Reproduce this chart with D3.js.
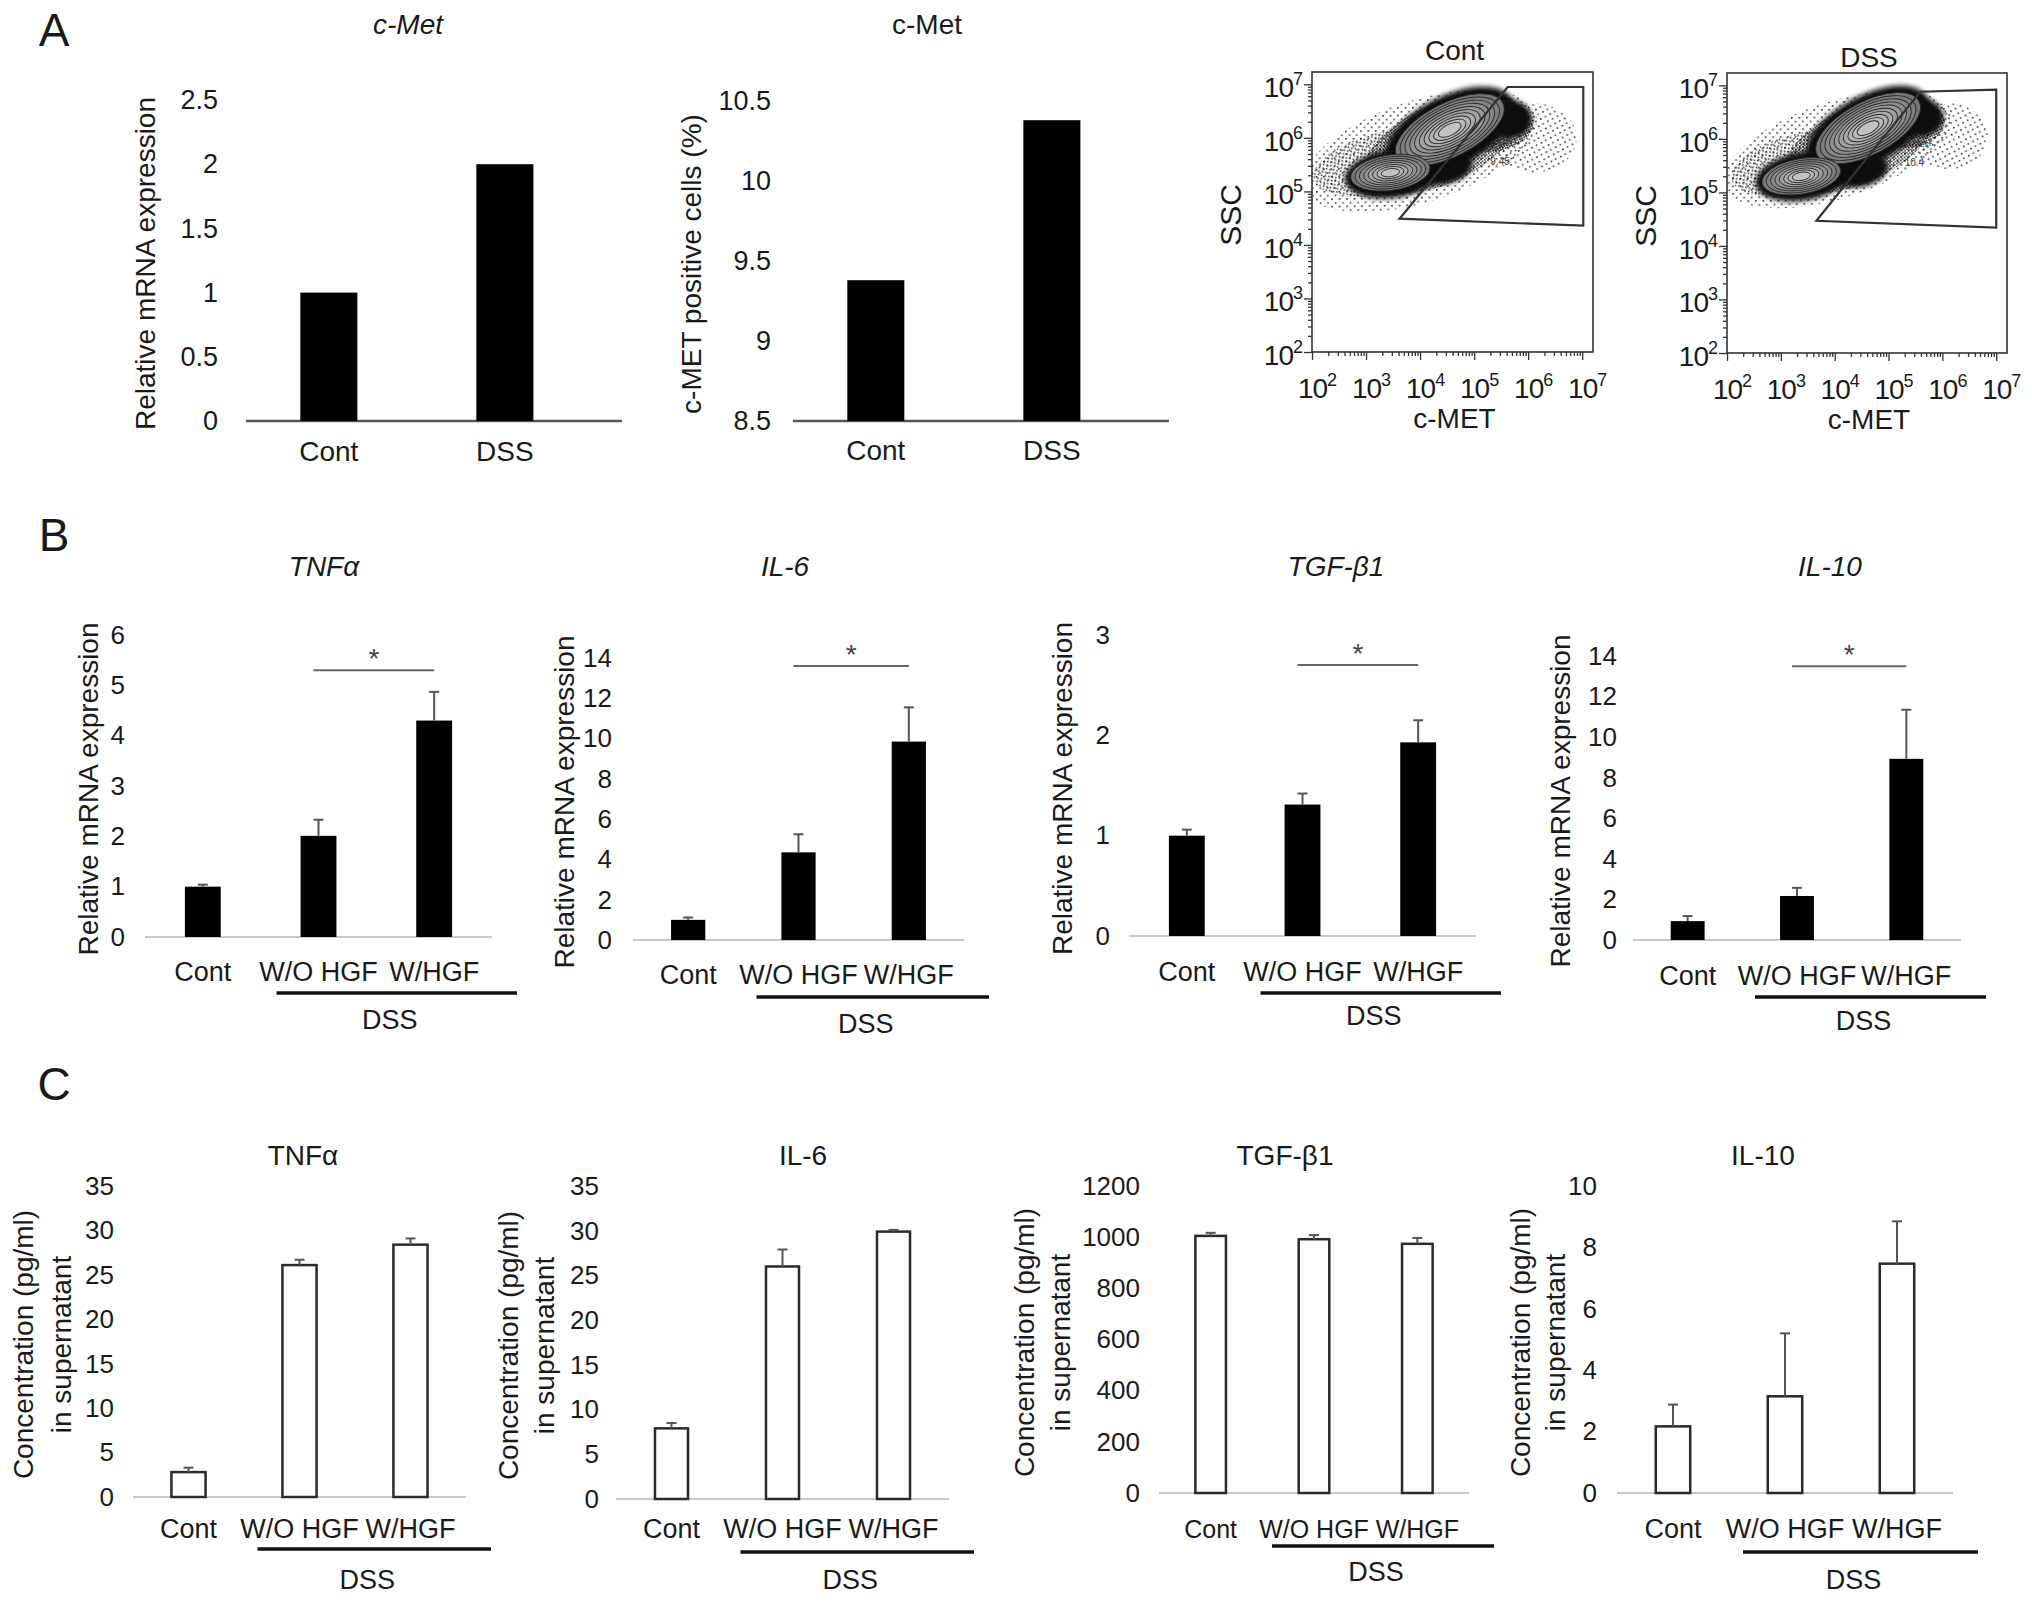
<!DOCTYPE html>
<html>
<head>
<meta charset="utf-8">
<script src="https://cdn.jsdelivr.net/npm/d3@7"></script>
<style>
  body { margin: 0; background: #fff; }
</style>
</head>
<body>
<script>
// ---- data ----
var catsA = ["Cont", "DSS"];
var cMetMrna = [1.0, 2.0];
var cMetPositive = [9.38, 10.38];

var catsB = ["Cont", "W/O HGF", "W/HGF"];

// B: relative mRNA expression (mean, upper error)
var tnfMrna = [1.0, 2.01, 4.30],   tnfMrnaErr = [0.04, 0.32, 0.57];
var il6Mrna = [1.0, 4.35, 9.85],   il6MrnaErr = [0.12, 0.9, 1.7];
var tgfMrna = [1.0, 1.31, 1.93],   tgfMrnaErr = [0.06, 0.11, 0.22];
var il10Mrna = [0.93, 2.17, 8.93], il10MrnaErr = [0.25, 0.4, 2.42];

// C: concentration in supernatant (pg/ml)
var tnfConc = [2.8, 26.1, 28.4],   tnfConcErr = [0.5, 0.6, 0.7];
var il6Conc = [7.9, 26.0, 29.9],   il6ConcErr = [0.6, 1.9, 0.2];
var tgfConc = [1005, 992, 974],    tgfConcErr = [12, 16, 23];
var il10Conc = [2.17, 3.15, 7.47], il10ConcErr = [0.71, 2.05, 1.38];

// significance bar heights in panel B
var sigB = [5.3, 13.6, 2.7, 13.5];

// flow cytometry (log10 units): gate corners, cloud regions
var gateCont = [[3.62, 4.49], [5.62, 6.95], [7.02, 6.95], [7.02, 4.36]];
var gateDss  = [[3.66, 4.47], [5.59, 6.88], [7.00, 6.92], [7.00, 4.34]];
var gatePctCont = "9.45", gatePctDss = "10.4";

var haloCont = [
  {x: 4.0, y: 5.75, rx: 2.25, ry: 0.95, a: -18, d: "sparse"},
  {x: 6.1, y: 6.0, rx: 0.8, ry: 0.65, a: 0, d: "sparse"},
  {x: 3.5, y: 5.55, rx: 1.5, ry: 0.6, a: -12, d: "medium"},
  {x: 4.4, y: 5.9, rx: 1.55, ry: 0.75, a: -25, d: "dense"},
  {x: 5.4, y: 6.2, rx: 0.7, ry: 0.45, a: -10, d: "dense"}
];
var coreCont = [
  {x: 4.55, y: 6.12, rx: 1.3, ry: 0.66, a: -27},
  {x: 3.5, y: 5.33, rx: 0.9, ry: 0.45, a: -8},
  {x: 4.42, y: 5.45, rx: 0.55, ry: 0.32, a: -10},
  {x: 5.65, y: 6.35, rx: 0.42, ry: 0.36, a: 0}
];
var contourCont = [
  {x: 4.55, y: 6.15, rx: 1.1, ry: 0.5, a: -27, n: 10},
  {x: 3.45, y: 5.35, rx: 0.74, ry: 0.33, a: -8, n: 8}
];

var haloDss = [
  {x: 4.05, y: 5.8, rx: 2.2, ry: 0.9, a: -18, d: "sparse"},
  {x: 6.1, y: 6.05, rx: 0.75, ry: 0.62, a: 0, d: "sparse"},
  {x: 3.5, y: 5.55, rx: 1.45, ry: 0.58, a: -12, d: "medium"},
  {x: 4.45, y: 5.9, rx: 1.5, ry: 0.72, a: -25, d: "dense"},
  {x: 5.4, y: 6.25, rx: 0.65, ry: 0.42, a: -10, d: "dense"}
];
var coreDss = [
  {x: 4.62, y: 6.18, rx: 1.25, ry: 0.63, a: -28},
  {x: 3.42, y: 5.3, rx: 0.9, ry: 0.45, a: -10},
  {x: 4.45, y: 5.42, rx: 0.55, ry: 0.32, a: -10},
  {x: 5.62, y: 6.4, rx: 0.4, ry: 0.35, a: 0}
];
var contourDss = [
  {x: 4.62, y: 6.2, rx: 1.07, ry: 0.49, a: -28, n: 10},
  {x: 3.38, y: 5.3, rx: 0.74, ry: 0.33, a: -10, n: 8}
];

// ---- drawing ----
var FAM = '"Liberation Sans", Arial, Helvetica, sans-serif';
var INK = "#1a1a1a";
var svg = d3.select("body").append("svg")
    .attr("width", 2032).attr("height", 1603)
    .attr("font-family", FAM);
svg.append("rect").attr("width", 2032).attr("height", 1603).attr("fill", "#fff");

var defs = svg.append("defs");
function speck(id, size, r, rot) {
  var p = defs.append("pattern").attr("id", id)
      .attr("width", size).attr("height", size)
      .attr("patternUnits", "userSpaceOnUse")
      .attr("patternTransform", "rotate(" + rot + ")");
  p.append("circle").attr("cx", 0.6).attr("cy", 0.6).attr("r", r).attr("fill", "#000");
  p.append("circle").attr("cx", size / 2 + 0.6).attr("cy", size / 2 + 1).attr("r", r * 0.9).attr("fill", "#222");
}
speck("speck-sparse", 7.5, 1.1, 17);
speck("speck-medium", 5, 1.1, -23);
speck("speck-dense", 3.4, 1.05, 31);
defs.append("filter").attr("id", "soft").attr("x", "-30%").attr("y", "-30%").attr("width", "160%").attr("height", "160%")
  .append("feGaussianBlur").attr("stdDeviation", 2.5);

function centerText(t, x, y, size, opts) {
  opts = opts || {};
  return svg.append("text")
      .attr("x", x).attr("y", y).attr("dy", "0.35em")
      .attr("text-anchor", "middle")
      .attr("font-size", size)
      .attr("font-style", opts.italic ? "italic" : null)
      .attr("fill", opts.fill || INK)
      .text(t);
}

function vText(t, x, y, size) {
  svg.append("text")
      .attr("transform", "translate(" + x + "," + y + ") rotate(-90)")
      .attr("dy", "0.35em")
      .attr("text-anchor", "middle")
      .attr("font-size", size)
      .attr("fill", INK)
      .text(t);
}

function barChart(o) {
  var g = svg.append("g");
  var x = d3.scaleBand().domain(o.cats).range([o.x0, o.x1])
      .paddingInner(o.pi).paddingOuter(o.po).align(o.align == null ? 0.5 : o.align);
  var y = d3.scaleLinear().domain(o.dom).range([o.yZero, o.yTop]);
  var bw = x.bandwidth();
  var cx = function(c) { return x(c) + bw / 2; };
  var fs = o.fs || 27;

  g.append("g")
      .attr("transform", "translate(" + o.tickRight + ",0)")
      .call(d3.axisLeft(y).tickValues(o.ticks).tickSize(0).tickPadding(0).tickFormat(d3.format("~g")))
      .call(function(a) { a.select(".domain").remove(); })
      .attr("font-family", null)
      .attr("font-size", o.tickFs || 26)
      .selectAll("text").attr("fill", INK);

  g.append("line")
      .attr("x1", o.x0).attr("x2", o.x1)
      .attr("y1", y(o.dom[0])).attr("y2", y(o.dom[0]))
      .attr("stroke", o.baseColor).attr("stroke-width", o.baseWidth);

  g.selectAll("rect.bar").data(o.values).join("rect")
      .attr("class", "bar")
      .attr("x", function(d, i) { return x(o.cats[i]) + (o.open ? 1.25 : 0); })
      .attr("y", function(d) { return y(d); })
      .attr("width", bw - (o.open ? 2.5 : 0))
      .attr("height", function(d) { return y(o.dom[0]) - y(d); })
      .attr("fill", o.open ? "#fff" : "#000")
      .attr("stroke", o.open ? "#2a2a2a" : "none")
      .attr("stroke-width", 2.5);

  if (o.errs) {
    o.values.forEach(function(v, i) {
      var c = cx(o.cats[i]);
      g.append("line").attr("x1", c).attr("x2", c)
          .attr("y1", y(v)).attr("y2", y(v + o.errs[i]))
          .attr("stroke", "#555").attr("stroke-width", 2);
      g.append("line").attr("x1", c - 5).attr("x2", c + 5)
          .attr("y1", y(v + o.errs[i])).attr("y2", y(v + o.errs[i]))
          .attr("stroke", "#555").attr("stroke-width", 2);
    });
  }

  o.cats.forEach(function(c) {
    centerText(c, cx(c), o.catY, fs);
  });

  if (o.dssY) {
    var lx0 = cx(o.cats[1]) - 42, lx1 = o.x1 + 25;
    g.append("line").attr("x1", lx0).attr("x2", lx1)
        .attr("y1", o.dssY).attr("y2", o.dssY)
        .attr("stroke", "#111").attr("stroke-width", 3.5);
    centerText("DSS", (lx0 + lx1) / 2 - 7, o.dssLabelY, 27);
  }

  if (o.sig != null) {
    var s0 = cx(o.cats[1]) - 5, s1 = cx(o.cats[2]);
    g.append("line").attr("x1", s0).attr("x2", s1)
        .attr("y1", y(o.sig)).attr("y2", y(o.sig))
        .attr("stroke", "#666").attr("stroke-width", 2);
    centerText("*", (s0 + s1) / 2, y(o.sig) - 12, 28, {fill: "#444"});
  }

  centerText(o.title, o.titleX, o.titleY, 28, {italic: o.italic});
  o.ylab.forEach(function(t, i) {
    vText(t, o.ylabX[i], (o.yZero + o.yTop) / 2 + 3, o.ylabFs || 28);
  });
}

function flowPlot(o) {
  var L = o.frame[0], R = o.frame[1], T = o.frame[2], B = o.frame[3];
  var xF = d3.scaleLog().domain([1e2, Math.pow(10, 7.2)]).range([L, R]);
  var yF = d3.scaleLog().domain([1e2, Math.pow(10, 7.23)]).range([B, T]);
  var g = svg.append("g");
  var clipId = "clip-" + o.title;
  defs.append("clipPath").attr("id", clipId)
    .append("rect").attr("x", L).attr("y", T).attr("width", R - L).attr("height", B - T);
  var plot = g.append("g").attr("clip-path", "url(#" + clipId + ")");

  function ell(c, k) {
    var cx = xF(Math.pow(10, c.x)), cy = yF(Math.pow(10, c.y));
    return {
      cx: cx, cy: cy,
      rx: (xF(Math.pow(10, c.x + c.rx)) - cx) * k,
      ry: (cy - yF(Math.pow(10, c.y + c.ry))) * k,
      t: "rotate(" + c.a + "," + cx + "," + cy + ")"
    };
  }
  function draw(sel, e) {
    return sel.append("ellipse").attr("cx", e.cx).attr("cy", e.cy)
        .attr("rx", e.rx).attr("ry", e.ry).attr("transform", e.t);
  }

  o.halo.forEach(function(c) {
    draw(plot, ell(c, 1)).attr("fill", "url(#speck-" + c.d + ")").attr("opacity", 0.8);
  });
  o.core.forEach(function(c) {
    draw(plot, ell(c, 1)).attr("fill", "#0d0d0d").attr("filter", "url(#soft)");
  });
  o.contour.forEach(function(c) {
    d3.range(c.n).forEach(function(i) {
      var k = 1 - i * 0.88 / c.n;
      draw(plot, ell(c, k))
          .attr("fill", d3.interpolateGreys(0.62 - 0.3 * i / c.n))
          .attr("stroke", "#2a2a2a").attr("stroke-width", 0.9);
    });
  });

  plot.append("path")
      .attr("d", d3.line()(o.gate.map(function(p) { return [xF(Math.pow(10, p[0])), yF(Math.pow(10, p[1]))]; })) + "Z")
      .attr("fill", "none").attr("stroke", "#333").attr("stroke-width", 2.2);

  plot.append("text").attr("x", xF(Math.pow(10, 5.3))).attr("y", yF(Math.pow(10, 5.84)))
      .attr("font-size", 9).attr("fill", "#333").text("c-Met+");
  plot.append("text").attr("x", xF(Math.pow(10, 5.3))).attr("y", yF(Math.pow(10, 5.5)))
      .attr("font-size", 10).attr("fill", "#444").text(o.pct);

  g.append("rect").attr("x", L).attr("y", T).attr("width", R - L).attr("height", B - T)
      .attr("fill", "none").attr("stroke", "#333").attr("stroke-width", 1.6);

  function isMajor(d) { var l = Math.log10(d); return Math.abs(l - Math.round(l)) < 1e-6; }

  g.append("g").attr("transform", "translate(" + L + ",0)")
      .call(d3.axisLeft(yF).tickValues(yF.ticks()).tickFormat(""))
      .call(function(a) {
        a.select(".domain").remove();
        a.selectAll(".tick line").attr("stroke", "#333").attr("stroke-width", 1.3)
          .attr("x2", function(d) { return isMajor(d) ? -8 : -4; });
      });
  g.append("g").attr("transform", "translate(0," + B + ")")
      .call(d3.axisBottom(xF).tickValues(xF.ticks()).tickFormat(""))
      .call(function(a) {
        a.select(".domain").remove();
        a.selectAll(".tick line").attr("stroke", "#333").attr("stroke-width", 1.3)
          .attr("y2", function(d) { return isMajor(d) ? 8 : 4; });
      });

  var exps = [2, 3, 4, 5, 6, 7];
  exps.forEach(function(e) {
    var ty = svg.append("text").attr("x", L - 10).attr("y", yF(Math.pow(10, e)) + 13)
        .attr("text-anchor", "end").attr("font-size", 28).attr("fill", INK)
        .attr("letter-spacing", -1);
    ty.append("tspan").text("10");
    ty.append("tspan").attr("font-size", 18).attr("dy", -12).text(e);
    var tx = svg.append("text").attr("x", xF(Math.pow(10, e)) + 5).attr("y", B + 46)
        .attr("text-anchor", "middle").attr("font-size", 28).attr("fill", INK)
        .attr("letter-spacing", -1);
    tx.append("tspan").text("10");
    tx.append("tspan").attr("font-size", 18).attr("dy", -12).text(e);
  });

  centerText(o.title, (L + R) / 2 + 2, o.titleY, 28);
  centerText("c-MET", (L + R) / 2 + 2, B + 66, 28);
  vText("SSC", L - 82, (T + B) / 2 + 3, 30);
}

// panel letters
centerText("A", 54, 30, 46);
centerText("B", 54, 535, 46);
centerText("C", 54, 1084, 46);

// ---- panel A ----
barChart({cats: catsA, values: cMetMrna, x0: 246, x1: 622, pi: 0.676, po: 0.406, align: 0.38,
  dom: [0, 2.5], yZero: 421, yTop: 100, ticks: [0, 0.5, 1, 1.5, 2, 2.5], tickRight: 218, tickFs: 27,
  baseColor: "#555", baseWidth: 2.5, fs: 28,
  title: "c-Met", italic: true, titleX: 408, titleY: 24,
  ylab: ["Relative mRNA expression"], ylabX: [145], catY: 451});

barChart({cats: catsA, values: cMetPositive, x0: 793, x1: 1169, pi: 0.676, po: 0.406, align: 0.38,
  dom: [8.5, 10.5], yZero: 421, yTop: 101, ticks: [8.5, 9, 9.5, 10, 10.5], tickRight: 771, tickFs: 27,
  baseColor: "#555", baseWidth: 2.5, fs: 28,
  title: "c-Met", italic: false, titleX: 927, titleY: 24,
  ylab: ["c-MET positive cells (%)"], ylabX: [691], catY: 450});

flowPlot({title: "Cont", frame: [1312, 1593, 72, 352], titleY: 50,
  halo: haloCont, core: coreCont, contour: contourCont, gate: gateCont, pct: gatePctCont});
flowPlot({title: "DSS", frame: [1727, 2007, 73, 353], titleY: 57,
  halo: haloDss, core: coreDss, contour: contourDss, gate: gateDss, pct: gatePctDss});

// ---- panel B ----
var mrnaLab = ["Relative mRNA expression"];
barChart({cats: catsB, values: tnfMrna, errs: tnfMrnaErr, x0: 145, x1: 492, pi: 0.69, po: 0.345,
  dom: [0, 6], yZero: 937, yTop: 635, ticks: d3.range(0, 7, 1), tickRight: 125,
  baseColor: "#c8c8c8", baseWidth: 2, sig: sigB[0],
  title: "TNFα", italic: true, titleX: 324, titleY: 566,
  ylab: mrnaLab, ylabX: [88], catY: 972, dssY: 993, dssLabelY: 1020});

barChart({cats: catsB, values: il6Mrna, errs: il6MrnaErr, x0: 633, x1: 964, pi: 0.69, po: 0.345,
  dom: [0, 14], yZero: 940, yTop: 658, ticks: d3.range(0, 15, 2), tickRight: 612,
  baseColor: "#c8c8c8", baseWidth: 2, sig: sigB[1],
  title: "IL-6", italic: true, titleX: 785, titleY: 566,
  ylab: mrnaLab, ylabX: [564], catY: 975, dssY: 997, dssLabelY: 1024});

barChart({cats: catsB, values: tgfMrna, errs: tgfMrnaErr, x0: 1129, x1: 1476, pi: 0.69, po: 0.345,
  dom: [0, 3], yZero: 936, yTop: 635, ticks: d3.range(0, 4, 1), tickRight: 1110,
  baseColor: "#c8c8c8", baseWidth: 2, sig: sigB[2],
  title: "TGF-β1", italic: true, titleX: 1336, titleY: 566,
  ylab: mrnaLab, ylabX: [1062], catY: 972, dssY: 993, dssLabelY: 1016});

barChart({cats: catsB, values: il10Mrna, errs: il10MrnaErr, x0: 1633, x1: 1961, pi: 0.69, po: 0.345,
  dom: [0, 14], yZero: 940, yTop: 656, ticks: d3.range(0, 15, 2), tickRight: 1617,
  baseColor: "#c8c8c8", baseWidth: 2, sig: sigB[3],
  title: "IL-10", italic: true, titleX: 1830, titleY: 566,
  ylab: mrnaLab, ylabX: [1560], catY: 976, dssY: 997, dssLabelY: 1021});

// ---- panel C ----
var concLab = ["Concentration (pg/ml)", "in supernatant"];
barChart({cats: catsB, values: tnfConc, errs: tnfConcErr, open: true, x0: 133, x1: 466, pi: 0.67, po: 0.335,
  dom: [0, 35], yZero: 1497, yTop: 1186, ticks: d3.range(0, 36, 5), tickRight: 114,
  baseColor: "#c8c8c8", baseWidth: 2,
  title: "TNFα", italic: false, titleX: 303, titleY: 1155,
  ylab: concLab, ylabX: [23, 61], catY: 1529, dssY: 1549, dssLabelY: 1580});

barChart({cats: catsB, values: il6Conc, errs: il6ConcErr, open: true, x0: 616, x1: 949, pi: 0.68, po: 0.34,
  dom: [0, 35], yZero: 1499, yTop: 1186, ticks: d3.range(0, 36, 5), tickRight: 599,
  baseColor: "#c8c8c8", baseWidth: 2,
  title: "IL-6", italic: false, titleX: 803, titleY: 1155,
  ylab: concLab, ylabX: [508, 544], catY: 1529, dssY: 1552, dssLabelY: 1580});

barChart({cats: catsB, values: tgfConc, errs: tgfConcErr, open: true, x0: 1159, x1: 1469, pi: 0.68, po: 0.34,
  dom: [0, 1200], yZero: 1493, yTop: 1186, ticks: d3.range(0, 1201, 200), tickRight: 1140,
  baseColor: "#c8c8c8", baseWidth: 2, fs: 25,
  title: "TGF-β1", italic: false, titleX: 1285, titleY: 1155,
  ylab: concLab, ylabX: [1024, 1060], catY: 1529, dssY: 1546, dssLabelY: 1572});

barChart({cats: catsB, values: il10Conc, errs: il10ConcErr, open: true, x0: 1617, x1: 1953, pi: 0.67, po: 0.335,
  dom: [0, 10], yZero: 1493, yTop: 1186, ticks: d3.range(0, 11, 2), tickRight: 1597,
  baseColor: "#c8c8c8", baseWidth: 2,
  title: "IL-10", italic: false, titleX: 1763, titleY: 1155,
  ylab: concLab, ylabX: [1520, 1555], catY: 1529, dssY: 1552, dssLabelY: 1580});
</script>
</body>
</html>
